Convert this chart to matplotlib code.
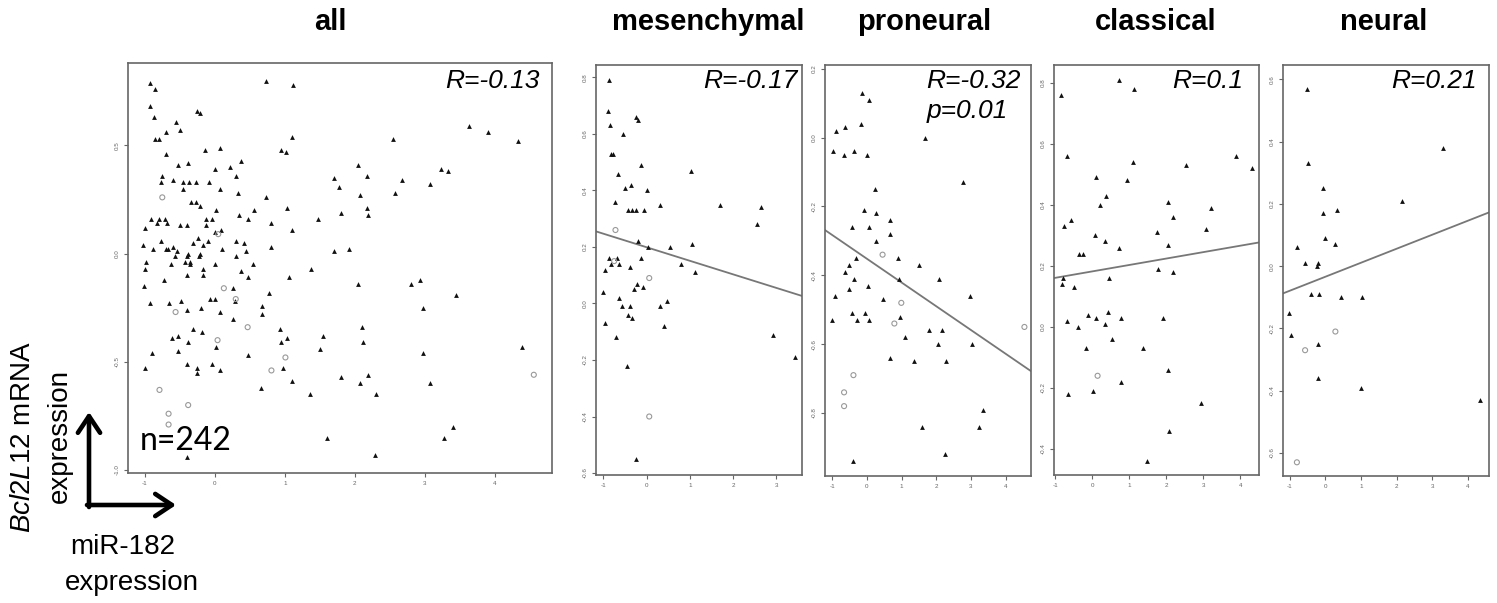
import numpy as np
import matplotlib.pyplot as plt

plt.rcParams['font.family'] = ['Liberation Sans', 'DejaVu Sans']
plt.rcParams['mathtext.fontset'] = 'custom'
plt.rcParams['mathtext.it'] = 'Liberation Sans:italic'
plt.rcParams['mathtext.rm'] = 'Liberation Sans'

W, H = 1497, 603

# ---- data ----
subtypes = ['all', 'mesenchymal', 'proneural', 'classical', 'neural']
r_labels = ['R=-0.13', 'R=-0.17', 'R=-0.32\np=0.01', 'R=0.1', 'R=0.21']
fit_intercept = [None, 0.199, -0.352, 0.182, -0.034]
fit_slope = [None, -0.048, -0.069, 0.021, 0.045]
n_label = 'n=242'

all_tri_x = [-0.92, -0.86, 0.73, 1.12, -0.92, -0.26, -0.21, -0.87, -0.56, 3.64, -0.50, 3.90, -0.69, 1.10,
             -0.85, -0.80, 2.55, 4.33, -0.14, 0.08, 0.94, 1.02, -0.69, 0.38, -0.38, -0.52, 2.05, 0.22,
             0.00, 3.23, 3.33, -0.76, 0.30, 1.70, 2.17, -0.60, -0.46, -0.37, -0.27, -0.08, -0.77, 2.68,
             1.77, 3.07, -0.46, 0.08, 0.33, 2.57, 2.07, 0.73, -0.34, -0.27, -0.21, 0.02, 1.03, 2.17,
             1.80, 2.19, 0.34, 0.56, -0.91, -0.79, -0.71, -0.13, -0.04, 0.47, 1.48, -0.83, -0.68, -0.50,
             -0.40, -0.12, 0.80, -0.99, 0.09, 1.10, 0.01, -0.77, -0.24, -0.10, 0.30, 0.42, -0.31, -0.17,
             -1.02, 0.80, -0.88, -0.69, -0.60, -0.67, -0.54, -0.38, -0.21, 0.10, 0.45, 1.70, 1.92, -0.98,
             -0.57, -0.40, -0.43, -0.36, -0.22, 0.31, -0.63, -0.35, -0.17, 0.01, 0.55, 1.37, -0.99, 0.38,
             0.48, 1.06, -0.17, -0.40, -0.72, 2.80, 2.94, 2.05, -1.01, 0.26, 0.78, 3.45, -0.07, 0.01,
             0.29, -0.93, -0.65, -0.48, -0.20, -0.40, 0.07, 0.68, 2.97, 0.68, 0.26, 0.93, 1.54, 2.10,
             -0.31, -0.18, -0.52, -0.61, 1.03, 0.95, 2.12, -0.38, -0.52, -0.90, 0.02, 0.48, 2.98, 4.39,
             1.50, -0.40, -0.26, -0.04, 0.08, -0.26, 0.97, -1.00, 1.80, 2.19, 1.11, 2.07, 3.07, 0.66,
             1.36, 2.30, 3.40, 3.27, 1.60, -0.39, 2.29]
all_tri_y = [0.79, 0.76, 0.80, 0.78, 0.68, 0.66, 0.65, 0.63, 0.61, 0.59, 0.57, 0.56, 0.56, 0.54,
             0.53, 0.53, 0.53, 0.52, 0.48, 0.49, 0.48, 0.47, 0.46, 0.43, 0.42, 0.41, 0.41, 0.40,
             0.39, 0.39, 0.38, 0.36, 0.36, 0.35, 0.36, 0.34, 0.33, 0.33, 0.33, 0.33, 0.33, 0.34,
             0.31, 0.32, 0.30, 0.30, 0.28, 0.28, 0.27, 0.26, 0.24, 0.24, 0.22, 0.20, 0.21, 0.21,
             0.19, 0.18, 0.18, 0.20, 0.16, 0.16, 0.16, 0.16, 0.16, 0.16, 0.16, 0.14, 0.14, 0.13,
             0.13, 0.13, 0.14, 0.12, 0.11, 0.11, 0.10, 0.06, 0.07, 0.06, 0.06, 0.05, 0.05, 0.04,
             0.04, 0.03, 0.02, 0.02, 0.03, 0.02, 0.01, 0.00, 0.00, 0.02, 0.01, 0.01, 0.02, -0.04,
             -0.01, -0.01, -0.04, -0.04, -0.01, -0.01, -0.05, -0.05, -0.07, -0.05, -0.05, -0.07, -0.07, -0.08,
             -0.11, -0.11, -0.10, -0.10, -0.12, -0.14, -0.12, -0.14, -0.15, -0.16, -0.18, -0.19, -0.21, -0.21,
             -0.22, -0.23, -0.23, -0.22, -0.25, -0.26, -0.27, -0.24, -0.25, -0.28, -0.30, -0.35, -0.38, -0.34,
             -0.35, -0.36, -0.38, -0.39, -0.39, -0.41, -0.41, -0.41, -0.45, -0.46, -0.43, -0.47, -0.46, -0.43,
             -0.44, -0.51, -0.53, -0.51, -0.54, -0.55, -0.53, -0.53, -0.57, -0.56, -0.59, -0.60, -0.60, -0.62,
             -0.65, -0.65, -0.80, -0.85, -0.85, -0.94, -0.93]
all_circ_x = [-0.75, 0.05, 0.13, 0.30, -0.56, 0.47, 0.04, 1.01, 0.81, 4.56, -0.79, -0.38, -0.66, -0.66]
all_circ_y = [0.26, 0.09, -0.16, -0.21, -0.27, -0.34, -0.40, -0.48, -0.54, -0.56, -0.63, -0.70, -0.74, -0.79]

mes_tri_x = [-0.88, -0.89, -0.84, -0.25, -0.19, -0.54, -0.82, -0.77, -0.12, -0.66, -0.50, -0.37, 0.01, -0.74,
             -0.44, -0.34, -0.25, -0.06, 0.30, 1.02, 1.70, 2.65, 2.55, -0.20, 0.03, 0.55, 1.05, -0.88,
             -0.68, -0.65, -0.82, -0.13, -0.38, -0.97, 0.79, 1.11, -0.22, -0.08, -0.30, -1.00, -0.65, -0.56,
             -0.38, 0.32, 0.47, -0.42, -0.34, -0.96, 0.39, -0.70, 2.91, 3.42, -0.45, -0.25]
mes_tri_y = [0.79, 0.68, 0.63, 0.66, 0.65, 0.60, 0.53, 0.53, 0.49, 0.46, 0.41, 0.42, 0.40, 0.36,
             0.33, 0.33, 0.33, 0.33, 0.35, 0.47, 0.35, 0.34, 0.28, 0.22, 0.20, 0.20, 0.21, 0.16,
             0.16, 0.14, 0.14, 0.16, 0.13, 0.12, 0.14, 0.11, 0.07, 0.06, 0.05, 0.04, 0.02, -0.01,
             -0.01, -0.01, 0.01, -0.04, -0.05, -0.07, -0.08, -0.12, -0.11, -0.19, -0.22, -0.55]
mes_circ_x = [-0.72, -0.75, 0.06, 0.06]
mes_circ_y = [0.26, 0.15, 0.09, -0.40]

pro_tri_x = [-0.13, 0.07, -0.18, -0.90, -0.62, 1.68, -0.98, -0.65, -0.36, 0.01, 2.77, 0.24, -0.08, 0.26,
             -0.42, 0.05, 0.66, 0.66, 0.25, -0.31, 0.90, 1.51, -0.52, -0.62, -0.38, 0.92, 2.09, 0.02,
             -0.92, -0.52, 0.46, 2.96, -1.01, -0.42, -0.06, -0.28, 0.07, 0.94, 1.78, 2.17, 1.11, 2.04,
             3.04, 0.65, 1.36, 2.27, 3.36, 1.58, 3.24, 2.25, -0.39]
pro_tri_y = [0.13, 0.11, 0.04, 0.02, 0.03, 0.00, -0.04, -0.05, -0.04, -0.05, -0.13, -0.15, -0.21, -0.22,
             -0.26, -0.26, -0.24, -0.28, -0.30, -0.35, -0.35, -0.37, -0.37, -0.39, -0.41, -0.41, -0.41, -0.43,
             -0.46, -0.44, -0.47, -0.46, -0.53, -0.51, -0.51, -0.53, -0.53, -0.52, -0.56, -0.56, -0.58, -0.60,
             -0.60, -0.64, -0.65, -0.65, -0.79, -0.84, -0.84, -0.92, -0.94]
pro_circ_x = [0.45, 0.99, 0.79, 4.54, -0.39, -0.66, -0.66]
pro_circ_y = [-0.34, -0.48, -0.54, -0.55, -0.69, -0.74, -0.78]

cla_tri_x = [0.72, 1.12, -0.86, -0.69, 3.88, 1.09, 2.54, 4.31, 0.09, 0.94, 0.37, 0.21, 2.04, 3.21,
             2.17, -0.59, -0.77, 1.76, 0.07, 0.33, 3.07, 0.72, 2.05, -0.35, -0.26, -0.79, 1.78, 2.17,
             0.46, -0.81, -0.50, -0.13, 0.42, 0.78, -0.70, 0.10, 1.91, -0.39, 0.33, 0.54, -0.17, 1.36,
             2.04, 0.77, 0.01, -0.65, 2.95, 2.08, 1.49]
cla_tri_y = [0.81, 0.78, 0.76, 0.56, 0.56, 0.54, 0.53, 0.52, 0.49, 0.48, 0.43, 0.40, 0.41, 0.39,
             0.36, 0.35, 0.33, 0.31, 0.30, 0.28, 0.32, 0.26, 0.27, 0.24, 0.24, 0.16, 0.19, 0.18,
             0.16, 0.14, 0.13, 0.04, 0.05, 0.03, 0.02, 0.03, 0.03, 0.00, 0.01, -0.04, -0.07, -0.07,
             -0.14, -0.18, -0.21, -0.22, -0.25, -0.34, -0.44]
cla_circ_x = [0.14]
cla_circ_y = [-0.16]

neu_tri_x = [-0.53, -0.49, 3.29, -0.06, 2.15, 0.32, -0.08, -0.02, 0.28, -0.79, -0.57, -0.22, -0.25, -0.41,
             -0.19, 0.45, 1.03, -1.03, -0.96, -0.22, -0.21, 1.00, 4.35]
neu_tri_y = [0.57, 0.33, 0.38, 0.25, 0.21, 0.18, 0.17, 0.09, 0.07, 0.06, 0.01, 0.01, 0.00, -0.09,
             -0.09, -0.10, -0.10, -0.15, -0.22, -0.25, -0.36, -0.39, -0.43]
neu_circ_x = [0.28, -0.57, -0.80]
neu_circ_y = [-0.21, -0.27, -0.63]

tri_x = [all_tri_x, mes_tri_x, pro_tri_x, cla_tri_x, neu_tri_x]
tri_y = [all_tri_y, mes_tri_y, pro_tri_y, cla_tri_y, neu_tri_y]
circ_x = [all_circ_x, mes_circ_x, pro_circ_x, cla_circ_x, neu_circ_x]
circ_y = [all_circ_y, mes_circ_y, pro_circ_y, cla_circ_y, neu_circ_y]

# ---- layout (pixel boxes: left, top, right, bottom) ----
boxes = [(128, 63, 552, 473), (596, 65, 802, 475), (825, 65, 1031, 476),
         (1054, 65, 1259, 475), (1283, 65, 1489, 476)]
xlims = [(-1.24, 4.82), (-1.17, 3.59), (-1.21, 4.73), (-1.04, 4.51), (-1.19, 4.59)]
ylims = [(-1.014, 0.881), (-0.607, 0.844), (-0.983, 0.211), (-0.485, 0.858), (-0.674, 0.646)]
xticks = [range(-1, 5), range(-1, 4), range(-1, 5), range(-1, 5), range(-1, 5)]
yticks = [[-1.0, -0.5, 0.0, 0.5],
          [-0.6, -0.4, -0.2, 0.0, 0.2, 0.4, 0.6, 0.8],
          [-0.8, -0.6, -0.4, -0.2, 0.0, 0.2],
          [-0.4, -0.2, 0.0, 0.2, 0.4, 0.6, 0.8],
          [-0.6, -0.4, -0.2, 0.0, 0.2, 0.4, 0.6]]
title_x = [330, 708, 924, 1156, 1384]
r_right = [540, 798, 1021, 1243, 1477]


def px_rect(left, top, right, bottom):
    return [left / W, 1 - bottom / H, (right - left) / W, (bottom - top) / H]


fig = plt.figure(figsize=(W / 100, H / 100), dpi=100)

for i in range(5):
    ax = fig.add_axes(px_rect(*boxes[i]))
    ax.scatter(tri_x[i], tri_y[i], marker='^', s=12, c='#111111', linewidths=0, zorder=3)
    ax.scatter(circ_x[i], circ_y[i], marker='o', s=13, facecolors='none',
               edgecolors='#999999', linewidths=0.8, zorder=3)
    if fit_slope[i] is not None:
        xs = np.array(xlims[i])
        ax.plot(xs, fit_intercept[i] + fit_slope[i] * xs, color='#777777', lw=1.3, zorder=2)
    ax.set_xlim(xlims[i])
    ax.set_ylim(ylims[i])
    ax.set_xticks(list(xticks[i]))
    ax.set_xticklabels([str(t) for t in xticks[i]])
    ax.set_yticks(yticks[i])
    ax.set_yticklabels([f'{t:.1f}' for t in yticks[i]], rotation=90, va='center')
    ax.tick_params(direction='out', length=3, width=0.8, colors='#666666', labelsize=4.5, pad=3)
    for sp in ax.spines.values():
        sp.set_color('#666666')
        sp.set_linewidth(1.2)

    fig.text(title_x[i] / W, 1 - 30 / H, subtypes[i], ha='center', va='baseline',
             fontsize=21, fontweight='bold')
    fig.text(r_right[i] / W, 1 - 69 / H, r_labels[i], ha='right', va='top',
             fontsize=19, style='italic', multialignment='left', linespacing=1.3)

fig.text(140 / W, 1 - 450 / H, n_label, family=['Lato', 'DejaVu Sans'], fontsize=23, va='baseline')

# axis legend on the left
fig.text(23 / W, 1 - 437 / H, r'$\mathit{Bcl2L12}$ mRNA', rotation=90, ha='center', va='center',
         fontsize=20)
fig.text(60 / W, 1 - 436 / H, 'expression', rotation=90, ha='center', va='center', fontsize=20)
fig.text(123 / W, 1 - 547 / H, 'miR-182', ha='center', va='center', fontsize=20)
fig.text(132 / W, 1 - 583 / H, 'expression', ha='center', va='center', fontsize=20)

ov = fig.add_axes([0, 0, 1, 1], zorder=10)
ov.set_xlim(0, W)
ov.set_ylim(H, 0)
ov.axis('off')
arrow = dict(arrowstyle='->,head_length=0.6,head_width=0.4', lw=3.3, color='black',
             mutation_scale=20, shrinkA=0, shrinkB=0)
ov.annotate('', xy=(89, 412), xytext=(89, 507), arrowprops=arrow)
ov.annotate('', xy=(176, 505), xytext=(87, 505), arrowprops=arrow)

fig.savefig('out.png', dpi=100)
